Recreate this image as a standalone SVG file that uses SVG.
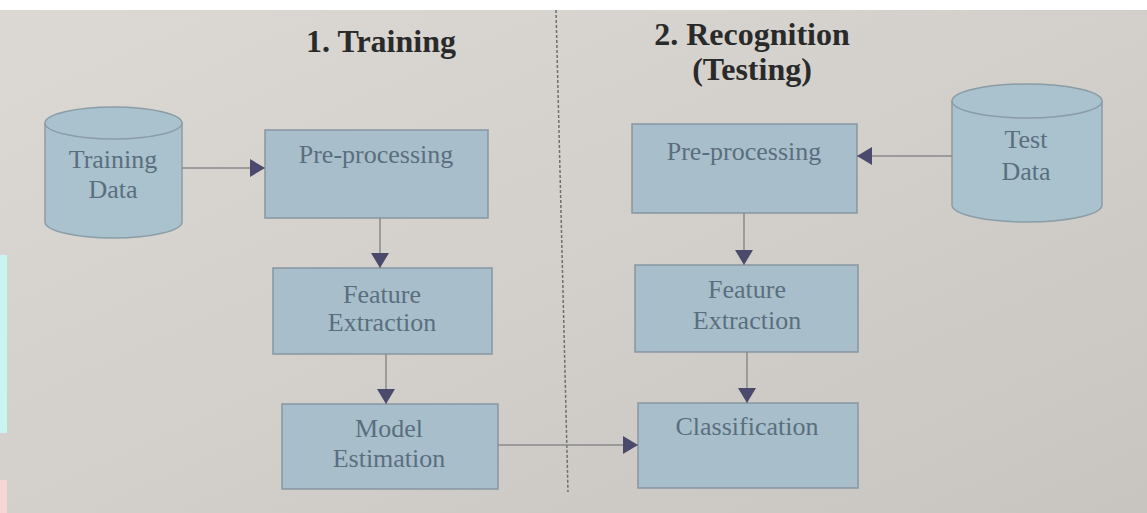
<svg xmlns="http://www.w3.org/2000/svg" width="1147" height="513" viewBox="0 0 1147 513">
<defs>
<linearGradient id="bg" x1="0" y1="0" x2="1" y2="1">
<stop offset="0" stop-color="#dcd9d4"/>
<stop offset="0.5" stop-color="#d3d0cb"/>
<stop offset="1" stop-color="#c8c5c1"/>
</linearGradient>
<marker id="ah" markerUnits="userSpaceOnUse" markerWidth="16" markerHeight="20" refX="15" refY="10" orient="auto">
<path d="M0,1 L15,10 L0,19 z" fill="#4b4a6c"/>
</marker>
<style>
.box{fill:#a8bfcb;stroke:#8796a2;stroke-width:1.5}
.cyl{fill:#a9c2cd;stroke:#8a9ca6;stroke-width:1.5}
.lbl{font-family:"Liberation Serif",serif;font-size:26px;fill:#5b6e7e;text-anchor:middle}
.ttl{font-family:"Liberation Serif",serif;font-size:32px;font-weight:bold;fill:#2a2a2a;text-anchor:middle}
.con{fill:none;stroke:#8a8a8c;stroke-width:1.5;marker-end:url(#ah)}
</style>
</defs>
<rect width="1147" height="513" fill="url(#bg)"/>
<rect width="1147" height="10" fill="#ffffff"/>
<rect x="0" y="255" width="7" height="178" fill="#c8f4f4"/>
<rect x="0" y="480" width="7" height="33" fill="#f6d6d6"/>

<g id="titles">
<text class="ttl" x="381" y="52">1. Training</text>
<text class="ttl" x="752" y="45">2. Recognition</text>
<text class="ttl" x="752" y="80">(Testing)</text>
</g>
<line id="divider" x1="556" y1="10" x2="568" y2="492" stroke="#6e6e6e" stroke-width="1.5" stroke-dasharray="3 2"/>

<g id="training-data">
<path class="cyl" d="M45,123 V222 A68.5,16 0 0 0 182,222 V123"/>
<ellipse class="cyl" cx="113.5" cy="123" rx="68.5" ry="16"/>
<text class="lbl" x="113" y="168">Training</text>
<text class="lbl" x="113" y="198">Data</text>
</g>
<g id="pre-train">
<rect class="box" x="265" y="130" width="223" height="88"/>
<text class="lbl" x="376" y="163">Pre-processing</text>
</g>
<g id="feat-train">
<rect class="box" x="273" y="268" width="219" height="86"/>
<text class="lbl" x="382" y="303">Feature</text>
<text class="lbl" x="382" y="331">Extraction</text>
</g>
<g id="model">
<rect class="box" x="282" y="404" width="216" height="85"/>
<text class="lbl" x="389" y="437">Model</text>
<text class="lbl" x="389" y="467">Estimation</text>
</g>
<g id="test-data">
<path class="cyl" d="M952,101 V205 A75,17 0 0 0 1102,205 V101"/>
<ellipse class="cyl" cx="1027" cy="101" rx="75" ry="17"/>
<text class="lbl" x="1026" y="148">Test</text>
<text class="lbl" x="1026" y="180">Data</text>
</g>
<g id="pre-test">
<rect class="box" x="632" y="124" width="225" height="89"/>
<text class="lbl" x="744" y="160">Pre-processing</text>
</g>
<g id="feat-test">
<rect class="box" x="635" y="265" width="223" height="87"/>
<text class="lbl" x="747" y="298">Feature</text>
<text class="lbl" x="747" y="329">Extraction</text>
</g>
<g id="classification">
<rect class="box" x="638" y="403" width="220" height="85"/>
<text class="lbl" x="747" y="435">Classification</text>
</g>

<g id="connectors">
<line class="con" x1="182" y1="168" x2="265" y2="168"/>
<line class="con" x1="380" y1="218" x2="380" y2="268"/>
<line class="con" x1="386" y1="354" x2="386" y2="404"/>
<line class="con" x1="498" y1="445" x2="638" y2="445"/>
<line class="con" x1="952" y1="156" x2="857" y2="156"/>
<line class="con" x1="744" y1="213" x2="744" y2="265"/>
<line class="con" x1="747" y1="352" x2="747" y2="403"/>
</g>
</svg>
